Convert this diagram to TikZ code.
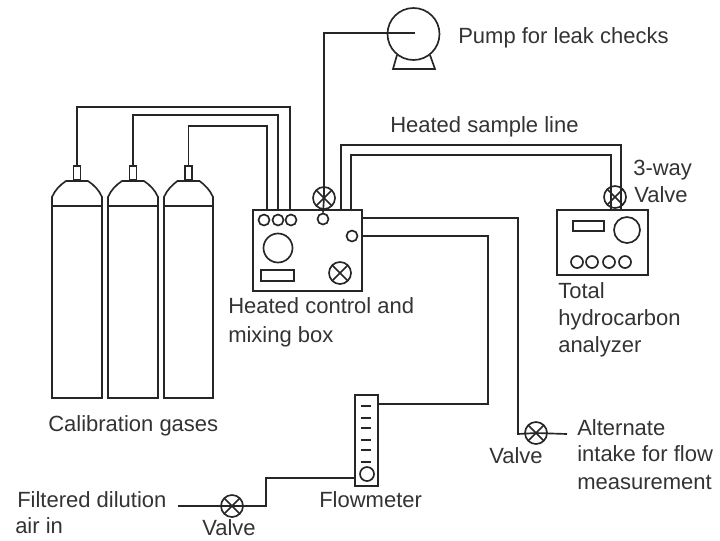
\documentclass[tikz,border=0pt]{standalone}
\usepackage{fontspec}
\setmainfont{Liberation Sans}
\tikzset{
 ln/.style={line width=1.25pt,draw=black!85},
 lab/.style={inner sep=0pt,anchor=base west,font=\fontsize{16.5pt}{20pt}\selectfont,text=black!80},
 knob/.style={circle,ln,inner sep=0pt,minimum size=#1*0.75pt},
 box/.style={rectangle,ln,inner sep=0pt,anchor=north west},
 valve/.style={circle,ln,inner sep=0pt,minimum size=16.5pt,path picture={
   \draw[ln] (path picture bounding box.north west)--(path picture bounding box.south east)
             (path picture bounding box.north east)--(path picture bounding box.south west);}},
}
\begin{document}
\begin{tikzpicture}[x=0.75pt,y=-0.75pt]
\useasboundingbox (0,0) rectangle (720,540);
% cylinders
\foreach \n/\l/\r in {a/52/102,b/108/158,c/164/213}{
  \pgfmathsetmacro{\mm}{(\l+\r)/2}
  \draw[ln] (\l,398) -- (\l,197) .. controls (\l+3,190) and (\l+8,185) .. (\mm-11,181) -- (\mm+11,181)
     .. controls (\r-8,185) and (\r-3,190) .. (\r,197) -- (\r,398) -- cycle;
  \draw[ln] (\l,206) -- (\r,206);
  \node[box,minimum width=5.25pt,minimum height=10.5pt,anchor=south] (stem\n) at (\mm,181) {};
}
% control box
\node[box,minimum width=81.75pt,minimum height=60.75pt] (ctrl) at (252,209) {};
\foreach \n/\x in {k1/264,k2/278,k3/291}{\node[knob=11] (\n) at (\x,220) {};}
\node[knob=11] (k4) at (323,219) {};
\node[knob=11] (k5) at (352,236) {};
\node[knob=29] (k6) at (278,248) {};
\node[box,minimum width=24.75pt,minimum height=8.25pt] (disp) at (260,269) {};
\node[valve] (vbox) at (340,273) {};
\node[valve] (vtop) at (324,198) {};
% pump
\node[circle,ln,inner sep=0pt,minimum size=39pt] (pump) at (413.5,34) {};
\coordinate (pumpin) at (415,33);
\draw[ln] (397,55) -- (393,69) -- (435,69) -- (430,55);
% analyzer
\node[box,minimum width=68.25pt,minimum height=48.75pt] (ana) at (556,209) {};
\node[box,minimum width=23.25pt,minimum height=7.5pt] (anad) at (572,220) {};
\node[knob=26] (anak) at (627,230) {};
\foreach \n/\x in {a1/577,a2/592,a3/609,a4/625}{\node[knob=12] (\n) at (\x,262) {};}
\node[valve] (v3) at (615,197) {};
% flowmeter
\node[box,minimum width=17.25pt,minimum height=68.25pt] (fm) at (354,394) {};
\foreach \n/\y in {t1/406,t2/418,t3/428,t4/440,t5/450,t6/462}{\draw[ln] (361,\y) -- (371,\y);}
\node[knob=14] (ball) at (367,474) {};
% valves
\node[valve] (vin) at (232,506) {};
\node[valve] (valt) at (536,433) {};
% connectors
\coordinate (c1) at (290,209); \coordinate (c2) at (278,209); \coordinate (c3) at (267,209);
\draw[ln] (stema.north) |- (c1|-0,107) -- (c1);
\draw[ln] (stemb.north) |- (c2|-0,115) -- (c2);
\draw[ln] (stemc.north) |- (c3|-0,126) -- (c3);
\draw[ln] (vtop.center) -- (324,33) -- (pumpin);
\draw[ln] (vtop.center) -- (k4.north);
\coordinate (h1) at (341,209); \coordinate (h2) at (351,209);
\coordinate (h3) at (621,209); \coordinate (h4) at (611,209);
\draw[ln] (h1) -- (341,145) -- (621,145) -- (h3);
\draw[ln] (h2) -- (351,155) -- (611,155) -- (h4);
\coordinate (r1) at (361,218); \coordinate (r2) at (361,236);
\coordinate (fmt) at (377,404);
\draw[ln] (r1) -- (518,218) -- (518,434) -- (valt.center);
\draw[ln] (r2) -- (488,236) -- (488,404) -- (fmt);
\coordinate (altend) at (567,434);
\draw[ln] (valt.center) -- (altend);
\coordinate (filt) at (178,506); \coordinate (fmb) at (354,478);
\draw[ln] (filt) -- (vin.center);
\draw[ln] (vin.center) -- (266,506) -- (266,478) -- (fmb);
% labels
\node[lab] (l1) at (458,43.5) {Pump for leak checks};
\node[lab] (l2) at (390,132.5) {Heated sample line};
\node[lab] (l3) at (633,175.5) {3-way};
\node[lab] (l4) at (634,202.5) {Valve};
\node[lab] (l5) at (228,313.5) {Heated control and};
\node[lab] (l6) at (228,342.5) {mixing box};
\node[lab] (l7) at (558,298.5) {Total};
\node[lab] (l8) at (558,325.5) {hydrocarbon};
\node[lab] (l9) at (558,352.5) {analyzer};
\node[lab] (l10) at (48,431.5) {Calibration gases};
\node[lab] (l11) at (17,507.5) {Filtered dilution};
\node[lab] (l12) at (15,533.5) {air in};
\node[lab] (l13) at (202,535.5) {Valve};
\node[lab] (l14) at (319,507.5) {Flowmeter};
\node[lab] (l15) at (489,463.5) {Valve};
\node[lab] (l16) at (577,435.5) {Alternate};
\node[lab] (l17) at (577,461.5) {intake for flow};
\node[lab] (l18) at (577,489.5) {measurement};
\end{tikzpicture}
\end{document}
